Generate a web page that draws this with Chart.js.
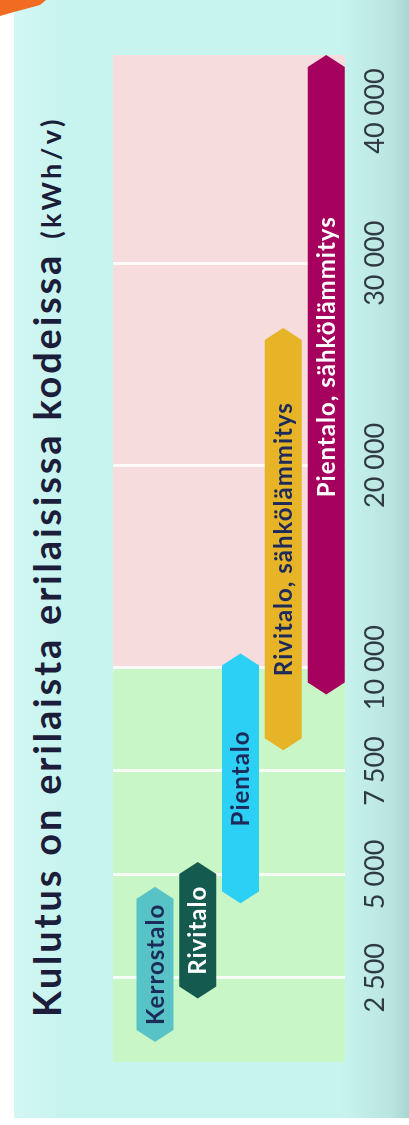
<!DOCTYPE html>
<html>
<head>
<meta charset="utf-8">
<script src="https://cdn.jsdelivr.net/npm/chart.js@4"></script>
<style>
  html, body { margin: 0; padding: 0; }
  body {
    width: 409px; height: 1125px; overflow: hidden; position: relative;
    background: linear-gradient(to right, #ffffff 0, #ffffff 14px, #d3f7f4 14px, #c8f4f0 60px, #c8f4f0 340px, #b9e4e0 392px, #a9d6d3 409px);
  }
  #bottomStrip { position: absolute; left: 0; top: 1118px; width: 409px; height: 7px; background: #ffffff; }
  #corner {
    position: absolute; left: 0; top: 0; width: 48px; height: 18px; background: #f26b22;
    clip-path: polygon(0 0, 46px 0, 40px 5px, 14px 12px, 0 16px);
  }
  #stage {
    position: absolute; left: 0; top: 0; width: 1125px; height: 409px;
    transform-origin: 0 0; transform: translate(0px, 1125px) rotate(-90deg);
  }
  #title {
    position: absolute; left: 108px; top: 27px; white-space: nowrap;
    font: 700 38px Lato, sans-serif; line-height: 38px; letter-spacing: 2.8px; color: #1b1d3a;
  }
  #title .unit { font-size: 27px; letter-spacing: 3.5px; margin-left: 2px; }
  canvas { position: absolute; left: 0; top: 0; }
</style>
</head>
<body>
<div id="bottomStrip"></div>
<div id="corner"></div>
<div id="stage">
  <div id="title">Kulutus on erilaista erilaisissa kodeissa <span class="unit">(kWh/v)</span></div>
  <canvas id="chart" width="1125" height="409"></canvas>
</div>
<script>
// consumption ranges, kWh per year
const categories = ['Kerrostalo', 'Rivitalo', 'Pientalo', 'Rivitalo, sähkölämmitys', 'Pientalo, sähkölämmitys'];
const lowValues = [950, 2000, 4300, 8000, 9350];
const highValues = [4700, 5300, 10700, 26800, 40300];

const tickValues = [2500, 5000, 7500, 10000, 20000, 30000, 40000];
const tickLabels = ['2 500', '5 000', '7 500', '10 000', '20 000', '30 000', '40 000'];

// axis starts a bit above zero, scale breaks at 10 000
const axisMin = 465;
const axisMax = 40300;
const breakValue = 10000;

const barColors = ['#57c3c6', '#145a4f', '#2cd0f5', '#e6b426', '#a5005d'];
const labelColors = ['#1d2b5a', '#ffffff', '#1d2b5a', '#1d2b5a', '#ffffff'];
const labelShift = [0, 0, 0, 0, 18]; // px toward the bar end

// 1 unit per 2500 below the break, ~1.955 units per 10 000 above it
function toAxis(v) {
  return v <= breakValue ? v / 2500 : breakValue / 2500 + (v - breakValue) / 10000 * 1.955;
}

const zonePlugin = {
  id: 'zones',
  beforeDraw(chart) {
    const { ctx, chartArea: a, scales: { x } } = chart;
    const mid = x.getPixelForValue(toAxis(breakValue));
    ctx.save();
    ctx.fillStyle = '#c9f6c6';
    ctx.fillRect(a.left, a.top, mid - a.left, a.bottom - a.top);
    ctx.fillStyle = '#f6dcdc';
    ctx.fillRect(mid, a.top, a.right - mid, a.bottom - a.top);
    ctx.restore();
    // last tick label sits inside the axis end
    const items = x.getLabelItems();
    const last = items[items.length - 1];
    if (last) last.options.translation[0] = x.getPixelForValue(toAxis(tickValues[tickValues.length - 1])) - 50;
  }
};

const hexBarPlugin = {
  id: 'hexBars',
  beforeDatasetDraw(chart, args) {
    const ctx = chart.ctx;
    args.meta.data.forEach((bar, i) => {
      const { x, y, base, height } = bar.getProps(['x', 'y', 'base', 'height'], true);
      const left = Math.min(x, base);
      const right = Math.max(x, base);
      const h = height / 2;
      const tip = 12;
      ctx.save();
      ctx.beginPath();
      ctx.moveTo(left, y);
      ctx.lineTo(left + tip, y - h);
      ctx.lineTo(right - tip, y - h);
      ctx.lineTo(right, y);
      ctx.lineTo(right - tip, y + h);
      ctx.lineTo(left + tip, y + h);
      ctx.closePath();
      ctx.fillStyle = barColors[i];
      ctx.fill();
      ctx.fillStyle = labelColors[i];
      ctx.font = 'bold 24px Lato';
      ctx.letterSpacing = '1px';
      ctx.textAlign = 'center';
      ctx.textBaseline = 'middle';
      ctx.fillText(categories[i], (left + right) / 2 + labelShift[i], y + 1);
      ctx.restore();
    });
    return false;
  }
};

new Chart(document.getElementById('chart'), {
  type: 'bar',
  data: {
    datasets: [{
      data: categories.map((c, i) => ({ x: [toAxis(lowValues[i]), toAxis(highValues[i])], y: i })),
      backgroundColor: barColors,
      barThickness: 37
    }]
  },
  options: {
    indexAxis: 'y',
    responsive: false,
    animation: false,
    layout: { padding: { top: 113, left: 63, right: 55, bottom: 0 } },
    plugins: {
      legend: { display: false },
      tooltip: { enabled: false }
    },
    scales: {
      x: {
        type: 'linear',
        position: 'bottom',
        min: toAxis(axisMin),
        max: toAxis(axisMax),
        afterBuildTicks: scale => {
          scale.ticks = tickValues.map(v => ({ value: toAxis(v) }));
        },
        afterFit: scale => { scale.height = 64; },
        ticks: {
          callback: (v, i) => tickLabels[i],
          color: '#2f3a44',
          font: { family: 'Lato', size: 27 },
          padding: 14,
          maxRotation: 0,
          autoSkip: false
        },
        grid: {
          color: ctx => ctx.tick && ctx.tick.value >= toAxis(40000) ? 'rgba(0,0,0,0)' : 'rgba(255,255,255,0.85)',
          lineWidth: 3,
          drawTicks: false
        },
        border: { display: false }
      },
      y: {
        type: 'linear',
        reverse: true,
        offset: false,
        min: -0.98,
        max: 4.44,
        display: false
      }
    }
  },
  plugins: [zonePlugin, hexBarPlugin]
});
</script>
</body>
</html>
